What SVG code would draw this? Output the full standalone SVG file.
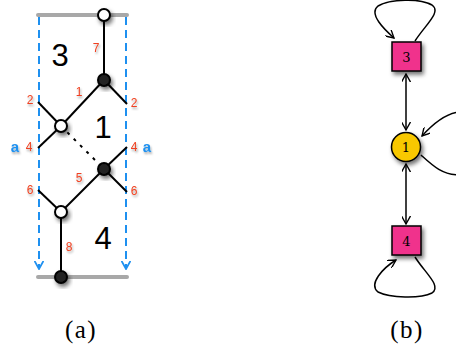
<svg xmlns="http://www.w3.org/2000/svg" width="456" height="354" viewBox="0 0 456 354">
<defs>
<style>
.grey{stroke:#a8a8a8;stroke-width:4;stroke-linecap:round;fill:none}
.dash{stroke:#1e90f0;stroke-width:2;stroke-dasharray:8,5;fill:none}
.ln{stroke:#000;stroke-width:2;fill:none}
.dot{stroke:#000;stroke-width:2;stroke-dasharray:3,6;fill:none}
.wn{fill:#fff;stroke:#000;stroke-width:2}
.bn{fill:#222;stroke:#000;stroke-width:2}
.big{font-family:"Liberation Sans",Arial,sans-serif;font-size:31px;fill:#000;text-anchor:middle}
.red{font-family:"Liberation Sans",Arial,sans-serif;font-size:12px;fill:#f04020;text-anchor:middle}
.blue{font-family:"Liberation Sans",Arial,sans-serif;font-size:15px;font-weight:bold;fill:#1e90f0;text-anchor:middle}
.edge{stroke:#000;stroke-width:1.5;fill:none}
.sq{fill:#f0308c;stroke:#000;stroke-width:1.5}
.circ{fill:#f8c800;stroke:#000;stroke-width:1.5}
.nl{font-family:"DejaVu Serif","Liberation Serif",serif;font-size:13px;fill:#000;text-anchor:middle}
.cap{font-family:"Liberation Serif","DejaVu Serif",serif;font-size:25px;letter-spacing:1.5px;fill:#000;text-anchor:middle}
</style>
<filter id="sh" x="-50%" y="-50%" width="200%" height="200%">
<feDropShadow dx="2" dy="3" stdDeviation="2" flood-color="#000" flood-opacity="0.55"/>
</filter>
<filter id="ts" x="-50%" y="-50%" width="200%" height="200%">
<feDropShadow dx="1" dy="2" stdDeviation="1.2" flood-color="#000" flood-opacity="0.35"/>
</filter>
<marker id="ah" viewBox="0 0 10 10" refX="9" refY="5" markerWidth="9" markerHeight="9" orient="auto-start-reverse" markerUnits="userSpaceOnUse">
<path d="M0,0 L9,5 L0,10" fill="none" stroke="#000" stroke-width="1.5"/>
</marker>
<marker id="bh" viewBox="0 0 10 10" refX="9" refY="5" markerWidth="9" markerHeight="10" orient="auto" markerUnits="userSpaceOnUse">
<path d="M0,0 L9,5 L0,10" fill="none" stroke="#1e90f0" stroke-width="2"/>
</marker>
</defs>

<g id="panel-a">
<g id="connectors-a">
<line class="grey" x1="38" y1="15" x2="127" y2="15"/>
<line class="grey" x1="38" y1="277" x2="127" y2="277"/>
<line class="dash" x1="39" y1="17" x2="39" y2="269" marker-end="url(#bh)"/>
<line class="dash" x1="126" y1="17" x2="126" y2="269" marker-end="url(#bh)"/>
<line class="ln" x1="104" y1="15" x2="104" y2="80"/>
<line class="ln" x1="104" y1="80" x2="61" y2="126"/>
<line class="ln" x1="104" y1="80" x2="127" y2="104"/>
<line class="ln" x1="38" y1="102" x2="61" y2="126"/>
<line class="ln" x1="61" y1="126" x2="38" y2="148"/>
<line class="dot" x1="61" y1="126" x2="104" y2="169"/>
<line class="ln" x1="104" y1="169" x2="127" y2="147"/>
<line class="ln" x1="104" y1="169" x2="127" y2="192"/>
<line class="ln" x1="104" y1="169" x2="61" y2="212"/>
<line class="ln" x1="38" y1="190" x2="61" y2="212"/>
<line class="ln" x1="61" y1="212" x2="61" y2="277"/>
</g>
<g id="v-top"><circle class="wn" cx="104" cy="15" r="6" filter="url(#sh)"/></g>
<g id="v-b1"><circle class="bn" cx="104" cy="80" r="6" filter="url(#sh)"/></g>
<g id="v-w1"><circle class="wn" cx="61" cy="126" r="6" filter="url(#sh)"/></g>
<g id="v-b2"><circle class="bn" cx="104" cy="169" r="6" filter="url(#sh)"/></g>
<g id="v-w2"><circle class="wn" cx="61" cy="212" r="6" filter="url(#sh)"/></g>
<g id="v-bot"><circle class="bn" cx="61" cy="277" r="6" filter="url(#sh)"/></g>
<g id="labels-a">
<text class="big" x="60" y="66">3</text>
<text class="big" x="103" y="138">1</text>
<text class="big" x="103" y="249">4</text>
<g filter="url(#ts)">
<text class="red" x="96" y="52">7</text>
<text class="red" x="79" y="96">1</text>
<text class="red" x="30" y="104">2</text>
<text class="red" x="134" y="107">2</text>
<text class="red" x="29" y="151">4</text>
<text class="red" x="134" y="151">4</text>
<text class="red" x="79" y="182">5</text>
<text class="red" x="30" y="194">6</text>
<text class="red" x="134" y="195">6</text>
<text class="red" x="69" y="251">8</text>
<text class="blue" x="15" y="152">a</text>
<text class="blue" x="147" y="152">a</text>
</g>
</g>
</g>

<g id="panel-b">
<g id="connectors-b">
<line class="edge" x1="406" y1="74" x2="406" y2="130" marker-start="url(#ah)" marker-end="url(#ah)"/>
<line class="edge" x1="406" y1="164" x2="406" y2="224" marker-start="url(#ah)" marker-end="url(#ah)"/>
<path class="edge" d="M415,41 C425,25 442,12 432,5 C420,-2 390,-1 378,6 C368,14 385,30 394,38" marker-end="url(#ah)"/>
<path class="edge" d="M415,257 C425,273 442,286 432,293 C420,299 390,298 378,292 C368,284 383,268 396,260" marker-end="url(#ah)"/>
<path class="edge" d="M421,155 C432,165 442,175 460,175"/>
<path class="edge" d="M460,112 C445,113 432,125 422,136" marker-end="url(#ah)"/>
</g>
<g id="n3"><rect class="sq" x="392" y="42" width="29" height="29" filter="url(#sh)"/><text class="nl" x="406.5" y="61.5">3</text></g>
<g id="n1"><circle class="circ" cx="406" cy="147" r="14.5" filter="url(#sh)"/><text class="nl" x="406" y="152">1</text></g>
<g id="n4"><rect class="sq" x="392" y="226" width="29" height="29" filter="url(#sh)"/><text class="nl" x="406.5" y="245.5">4</text></g>
</g>

<g id="captions">
<text class="cap" x="81" y="338">(a)</text>
<text class="cap" x="407" y="338">(b)</text>
</g>
</svg>
